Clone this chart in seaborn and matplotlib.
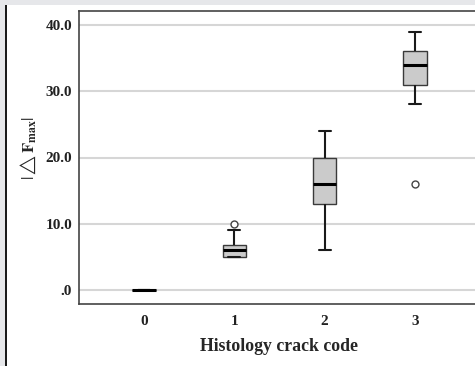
import matplotlib
matplotlib.use("Agg")
import matplotlib.pyplot as plt
import seaborn as sns
import pandas as pd

# ---- data ----
crack_codes = ["0", "1", "2", "3"]
code0_values = [0, 0, 0, 0, 0, 0, 0, 0, 0]
code1_values = [5, 5, 5, 5.5, 6, 6.5, 6.8, 9, 10]
code2_values = [6, 10, 13, 15, 16, 18, 20, 22, 24]
code3_values = [16, 28, 31, 33, 34, 35, 36, 38, 39]
y_ticks = [0, 10, 20, 30, 40]
y_tick_labels = [".0", "10.0", "20.0", "30.0", "40.0"]

groups = [code0_values, code1_values, code2_values, code3_values]
df = pd.DataFrame({
    "code": [c for c, vals in zip(crack_codes, groups) for _ in vals],
    "value": [v for vals in groups for v in vals],
})

sns.set_style("white")
plt.rcParams["font.family"] = ["Liberation Serif", "DejaVu Serif"]
plt.rcParams["mathtext.fontset"] = "stix"

W, H = 475, 366
fig = plt.figure(figsize=(W / 100, H / 100), dpi=100)
fig.patch.set_facecolor("white")

# decorative frame (gray strip at top, dark line at left)
fig.patches.append(plt.Rectangle((0, 1 - 5 / H), 1, 5 / H, transform=fig.transFigure,
                                 facecolor="#e6e7ea", edgecolor="none", zorder=0))
fig.patches.append(plt.Rectangle((0, 0), 5 / W, 1, transform=fig.transFigure,
                                 facecolor="#e6e7ea", edgecolor="none", zorder=0))
fig.patches.append(plt.Rectangle((5 / W, 0), 2 / W, 1 - 5 / H, transform=fig.transFigure,
                                 facecolor="#1a1a1a", edgecolor="none", zorder=1))

left, top, bottom = 79, 11, 304
right = 480
ax = fig.add_axes([left / W, 1 - bottom / H, (right - left) / W, (bottom - top) / H])

sns.boxplot(
    data=df, x="code", y="value", order=crack_codes, ax=ax,
    width=0.26, color="#cbcbcb", linecolor="#3a3a3a", linewidth=1.0,
    whis=1.5,
    medianprops=dict(color="black", linewidth=2.2),
    whiskerprops=dict(color="#1a1a1a", linewidth=1.5),
    capprops=dict(color="#1a1a1a", linewidth=1.5),
    flierprops=dict(marker="o", markersize=5, markerfacecolor="white",
                    markeredgecolor="#444444", markeredgewidth=1.0),
    saturation=1,
)

ax.set_xlim(-0.72, 3.72)
ax.set_ylim(-2.1, 42.1)
ax.set_yticks(y_ticks)
ax.set_yticklabels(y_tick_labels)
ax.yaxis.grid(True, color="#d6d6d6", linewidth=1.5, zorder=0)
ax.set_axisbelow(True)
ax.tick_params(axis="both", length=0, labelsize=11, colors="#222222")
ax.tick_params(axis="x", pad=8)
ax.tick_params(axis="y", pad=5)
for lbl in ax.get_xticklabels() + ax.get_yticklabels():
    lbl.set_fontweight("bold")

for side in ["left", "top", "bottom"]:
    ax.spines[side].set_color("#444444")
    ax.spines[side].set_linewidth(1.2)
ax.spines["right"].set_visible(False)

ax.set_xlabel("Histology crack code", fontsize=12.8, fontweight="bold", labelpad=7)
ax.set_ylabel(r"$|\triangle\mathbf{F}_{\mathbf{max}}|$", fontsize=12)
ax.yaxis.set_label_coords((38 - left) / (right - left), (bottom - 148) / (bottom - top))

fig.savefig("out.png", dpi=100)
